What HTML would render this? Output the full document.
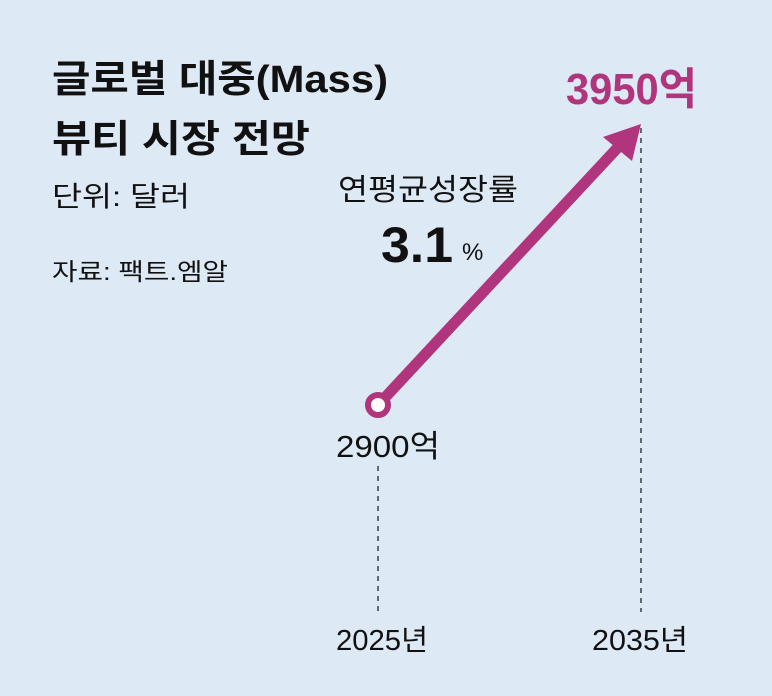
<!DOCTYPE html>
<html><head><meta charset="utf-8"><style>
body{margin:0;width:772px;height:696px;background:#dde9f5;overflow:hidden;}
svg{display:block}
text{font-family:"Liberation Sans","Noto Sans CJK KR",sans-serif;}
</style></head><body>
<svg width="772" height="696" viewBox="0 0 772 696">
<rect width="772" height="696" fill="#dde9f5"/>
<text x="52" y="92" font-size="38" font-weight="bold" fill="#111" textLength="336" lengthAdjust="spacingAndGlyphs">글로벌 대중(Mass)</text>
<text x="52" y="152" font-size="38" font-weight="bold" fill="#111" textLength="258" lengthAdjust="spacingAndGlyphs">뷰티 시장 전망</text>
<text x="52" y="206" font-size="28" fill="#111" textLength="138" lengthAdjust="spacingAndGlyphs">단위:  달러</text>
<text x="52" y="280" font-size="24" fill="#111" textLength="176" lengthAdjust="spacingAndGlyphs">자료: 팩트.엠알</text>
<line x1="378" y1="466" x2="378" y2="612" stroke="#222" stroke-width="1.3" stroke-dasharray="5,5"/>
<line x1="641" y1="128" x2="641" y2="612" stroke="#222" stroke-width="1.3" stroke-dasharray="5,5"/>
<line x1="378" y1="405" x2="622" y2="143" stroke="#b0357c" stroke-width="11"/>
<polygon points="641,124 603,137 632,161" fill="#b0357c"/>
<circle cx="378" cy="405" r="10" fill="#fff" stroke="#b0357c" stroke-width="6"/>
<text x="566" y="104" font-size="44" font-weight="bold" fill="#b0357c" textLength="131" lengthAdjust="spacingAndGlyphs">3950억</text>
<text x="338" y="200" font-size="30" fill="#111" textLength="180" lengthAdjust="spacingAndGlyphs">연평균성장률</text>
<text x="381" y="262" font-size="50" font-weight="bold" fill="#111" textLength="72" lengthAdjust="spacingAndGlyphs">3.1</text>
<text x="462" y="260" font-size="24" fill="#111">%</text>
<text x="336" y="457" font-size="31" fill="#111" textLength="104" lengthAdjust="spacingAndGlyphs">2900억</text>
<text x="336" y="650" font-size="29" fill="#111" textLength="92" lengthAdjust="spacingAndGlyphs">2025년</text>
<text x="592" y="650" font-size="29" fill="#111" textLength="96" lengthAdjust="spacingAndGlyphs">2035년</text>
</svg>
</body></html>
